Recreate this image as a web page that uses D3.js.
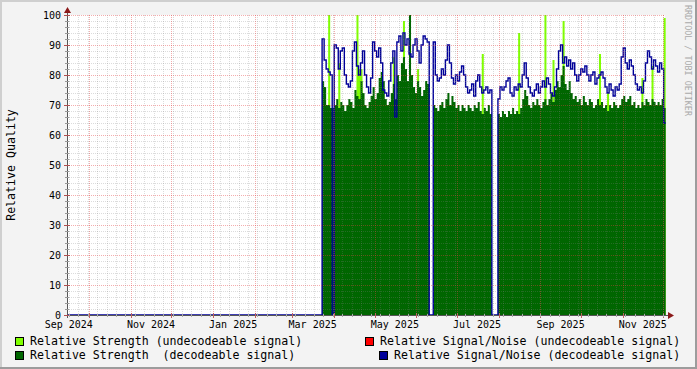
<!DOCTYPE html>
<html><head><meta charset="utf-8">
<script src="https://cdn.jsdelivr.net/npm/d3@7"></script>
<style>body{margin:0;background:#f3f3f3} svg{display:block}</style>
</head><body><svg id="c" width="697" height="369"></svg>
<script>
// ---------------- DATA ----------------
const startDate = "2025-03-23T00:00:00Z";   // first sample
const stepHours = 36;                       // sample spacing
const strengthUndecodable = [
  0,0,0,100,0, 0,0,0,84,0, 0,0,0,0,0, 0,0,100,82,82,
  0,0,0,0,0, 0,0,0,0,0, 0,0,0,0,0, 86,0,0,0,0,
  98,0,0,0,0, 0,0,82,0,0, 0,0,0,0,0, 0,0,0,0,0,
  0,0,0,0,0, 0,0,0,0,0, 0,0,0,0,0, 0,0,0,0,87,
  0,0,0,0,0, 0,0,0,0,0, 0,0,0,0,0, 0,0,94,0,0,
  0,0,0,0,0, 0,0,0,0,0, 100,0,0,0,85, 0,0,0,0,98,
  0,0,0,0,0, 0,0,0,0,0, 0,0,0,0,0, 0,0,87,0,0,
  0,74,0,0,0, 0,0,0,0,0, 0,0,0,0,0, 0,0,0,79,0,
  0,0,0,83,0, 0,0,0,0,99
];
const strengthDecodable = [
  78,76,70,70,69, 69,70,72,69,71, 70,68,70,72,71, 69,75,73,72,78,
  74,70,69,71,73, 76,72,74,79,81, 78,72,70,71,74, 77,72,80,78,84,
  86,82,78,100,80, 76,74,78,76,73, 75,78,77,0,0, 70,69,68,70,71,
  69,72,74,70,73, 71,69,70,68,70, 69,68,70,69,68, 70,69,71,68,67,
  69,68,70,67,0, 0,0,67,66,68, 67,66,68,67,69, 67,68,67,69,72,
  75,73,70,69,71, 70,72,70,69,71, 72,70,72,74,71, 75,78,76,80,83,
  77,75,78,74,72, 73,71,72,70,73, 71,70,72,71,69, 70,72,70,71,69,
  70,68,70,69,71, 70,69,70,72,73, 71,72,73,70,71, 69,70,69,71,70,
  72,71,70,72,71, 70,71,70,72,69
];
const snrDecodable = [
  92,85,82,81,80, 0,90,89,82,88, 89,80,77,76,78, 88,91,83,80,84,
  88,80,76,74,79, 91,88,86,89,84, 75,74,73,78,84, 88,66,91,93,88,
  94,90,92,87,86, 90,92,88,84,90, 93,92,91,0,0, 91,80,78,79,82,
  80,85,90,84,79, 77,80,78,81,83, 80,76,74,75,77, 73,78,80,76,74,
  75,76,74,75,0, 0,0,72,76,75, 76,78,79,74,73, 76,75,77,76,80,
  84,79,76,74,73, 75,77,74,76,78, 76,79,77,74,73, 76,82,88,90,84,
  86,83,85,82,84, 80,78,80,82,81, 83,80,78,80,81, 77,79,80,81,79,
  76,74,77,75,73, 76,75,77,86,89, 84,82,85,83,80, 77,75,76,74,78,
  84,88,86,82,85, 83,81,84,82,64
];
const snrUndecodable = [];   // no visible values in the picture
const yTickValues = [0,10,20,30,40,50,60,70,80,90,100];
const xLabelMonths = ["2024-09-01","2024-11-01","2025-01-01","2025-03-01","2025-05-01","2025-07-01","2025-09-01","2025-11-01"];
const legendItems = [
  {text:"Relative Strength (undecodeable signal)", color:"#80ff00"},
  {text:"Relative Signal/Noise (undecodeable signal)", color:"#ff0000"},
  {text:"Relative Strength  (decodeable signal)", color:"#006600"},
  {text:"Relative Signal/Noise (decodeable signal)", color:"#000099"}
];

// ---------------- CHART ----------------
const W = 697, H = 369;
const L = 67, R = 665, T = 15, B = 315;
const svg = d3.select("#c");
const mono = "'DejaVu Sans Mono', monospace";

const x = d3.scaleUtc()
  .domain([new Date(Date.UTC(2024,8,14,16)), new Date(Date.UTC(2025,11,2,12))])
  .range([L, R]);
const y = d3.scaleLinear().domain([0,100]).range([B, T]);

// background + border
svg.append("rect").attr("width",W).attr("height",H).attr("fill","#f3f3f3");
svg.append("rect").attr("x",0).attr("y",0).attr("width",W).attr("height",2).attr("fill","#cfcfcf");
svg.append("rect").attr("x",0).attr("y",0).attr("width",2).attr("height",H).attr("fill","#cfcfcf");
svg.append("rect").attr("x",W-2).attr("y",0).attr("width",2).attr("height",H).attr("fill","#9c9c9c");
svg.append("rect").attr("x",0).attr("y",H-2).attr("width",W).attr("height",2).attr("fill","#9c9c9c");
svg.append("rect").attr("x",L).attr("y",T).attr("width",R-L).attr("height",B-T).attr("fill","#ffffff");

// data
const t0 = new Date(startDate).getTime();
const stepMs = stepHours*3600*1000;
const mk = arr => {
  const pts = arr.map((v,i)=>({d:new Date(t0+i*stepMs), v}));
  pts.push({d:new Date(t0+arr.length*stepMs), v:arr[arr.length-1]});
  return pts;
};
const area = d3.area().curve(d3.curveStepAfter).x(p=>x(p.d)).y0(y(0)).y1(p=>y(p.v));
const line = d3.line().curve(d3.curveStepAfter).x(p=>x(p.d)).y(p=>y(p.v));

const plot = svg.append("g");
plot.append("path").datum(mk(strengthUndecodable)).attr("d",area).attr("fill","#80ff00");
plot.append("path").datum(mk(strengthDecodable)).attr("d",area).attr("fill","#006600");
const bluePts = [{d:x.domain()[0], v:0}].concat(mk(snrDecodable));
plot.append("path").datum(bluePts).attr("d",line).attr("fill","none")
  .attr("stroke","#000099").attr("stroke-width",1.4);

// grid (drawn on top, semi transparent)
const grid = svg.append("g").attr("shape-rendering","crispEdges");
const minorC = "rgba(128,128,128,0.28)", majorC = "rgba(230,60,60,0.42)";
for (let v=0; v<=100; v+=2) {
  const major = v%10===0;
  grid.append("line").attr("x1",L).attr("x2",R).attr("y1",y(v)+0.5).attr("y2",y(v)+0.5)
    .attr("stroke", major ? majorC : minorC)
    .attr("stroke-dasharray","1,1");
}
const weeks = d3.utcMonday.range(x.domain()[0], x.domain()[1]);
weeks.forEach(d=>{
  grid.append("line").attr("x1",Math.round(x(d))+0.5).attr("x2",Math.round(x(d))+0.5).attr("y1",T).attr("y2",B)
    .attr("stroke",minorC).attr("stroke-dasharray","1,1");
});
const months = d3.utcMonth.range(x.domain()[0], x.domain()[1]);
months.forEach(d=>{
  grid.append("line").attr("x1",Math.round(x(d))+0.5).attr("x2",Math.round(x(d))+0.5).attr("y1",T).attr("y2",B)
    .attr("stroke",majorC).attr("stroke-dasharray","1,1");
});

// axes
const ax = svg.append("g").attr("shape-rendering","crispEdges");
ax.append("line").attr("x1",L+0.5).attr("x2",L+0.5).attr("y1",B+3).attr("y2",T-5).attr("stroke","#555");
ax.append("line").attr("x1",L-3).attr("x2",R+4).attr("y1",B+0.5).attr("y2",B+0.5).attr("stroke","#555");
for (let v=0; v<=100; v+=2) {
  const major = v%10===0;
  ax.append("line").attr("x1",L-(major?3:2)).attr("x2",L+(major?3:2)).attr("y1",y(v)+0.5).attr("y2",y(v)+0.5)
    .attr("stroke", major ? "#b05050" : "#999");
}
months.forEach(d=>{
  ax.append("line").attr("x1",Math.round(x(d))+0.5).attr("x2",Math.round(x(d))+0.5).attr("y1",B-2).attr("y2",B+3)
    .attr("stroke","#c06060");
});
weeks.forEach(d=>{
  ax.append("line").attr("x1",Math.round(x(d))+0.5).attr("x2",Math.round(x(d))+0.5).attr("y1",B-1).attr("y2",B+2)
    .attr("stroke","#aaa");
});
svg.append("path").attr("d",`M${L-3},${T-2}L${L+0.5},${T-8}L${L+4},${T-2}Z`).attr("fill","#8b1a1a");
svg.append("path").attr("d",`M${R+3},${B-3}L${R+9},${B+0.5}L${R+3},${B+4}Z`).attr("fill","#8b1a1a");

// y labels
svg.append("g").selectAll("text").data(yTickValues).join("text")
  .attr("x",61).attr("y",v=>y(v)+3.5).attr("text-anchor","end")
  .attr("font-family",mono).attr("font-size","10px").attr("fill","#000").text(v=>v);

// x labels (centered on the month interval)
svg.append("g").selectAll("text").data(xLabelMonths).join("text")
  .attr("x",s=>{const d=new Date(s+"T00:00:00Z"); return x(new Date(d.getTime()+15*86400000));})
  .attr("y",328).attr("text-anchor","middle")
  .attr("font-family",mono).attr("font-size","10px").attr("fill","#000")
  .text(s=>d3.utcFormat("%b %Y")(new Date(s+"T00:00:00Z")));

// y title
svg.append("text").attr("transform",`translate(15,${(T+B)/2}) rotate(-90)`).attr("text-anchor","middle")
  .attr("font-family",mono).attr("font-size","11.6px").attr("fill","#000").text("Relative Quality");

// watermark
svg.append("text").attr("transform",`translate(685,5) rotate(90)`).attr("text-anchor","start")
  .attr("font-family",mono).attr("font-size","8.4px").attr("fill","#aaaaaa").text("RRDTOOL / TOBI OETIKER");

// legend
const lg = [
  {i:0, bx:15, by:337, tx:30, ty:345},
  {i:1, bx:365, by:337, tx:380, ty:345},
  {i:2, bx:15, by:351, tx:30, ty:359},
  {i:3, bx:379, by:351, tx:394, ty:359}
];
lg.forEach(p=>{
  const it = legendItems[p.i];
  svg.append("rect").attr("x",p.bx+0.5).attr("y",p.by+0.5).attr("width",8).attr("height",8)
    .attr("fill",it.color).attr("stroke","#000").attr("stroke-width",1);
  svg.append("text").attr("x",p.tx).attr("y",p.ty).attr("font-family",mono).attr("font-size","11.6px")
    .attr("fill","#000").attr("xml:space","preserve").style("white-space","pre").text(it.text);
});
</script></body></html>
